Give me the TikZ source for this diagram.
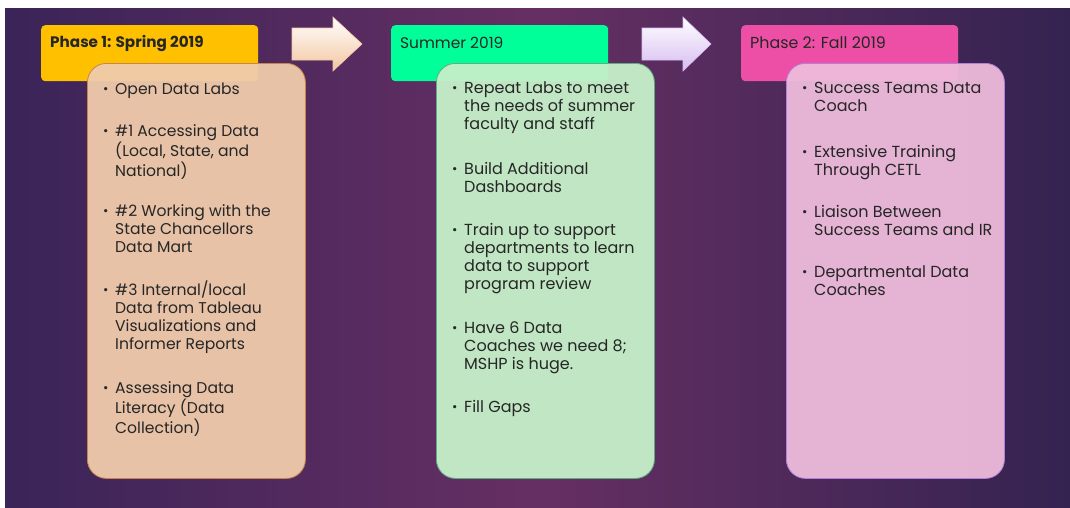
\documentclass[tikz,border=0pt]{standalone}
\usepackage{fontspec}
\setmainfont{Poppins}
\usepackage{array}
\definecolor{bgL}{HTML}{3A2458}
\definecolor{bgM}{HTML}{662F63}
\definecolor{bgR}{HTML}{342350}
\definecolor{txt}{HTML}{262626}
\definecolor{hdrA}{HTML}{FFC000}
\definecolor{hdrB}{HTML}{00FF99}
\definecolor{hdrC}{HTML}{EE4FA6}
\definecolor{boxA}{HTML}{F0CBAB}
\definecolor{boxB}{HTML}{C6F0C9}
\definecolor{boxC}{HTML}{EEBBDB}
\definecolor{lineA}{HTML}{C8844C}
\definecolor{lineB}{HTML}{5FAE82}
\definecolor{lineC}{HTML}{B27FDA}
\definecolor{arrA}{HTML}{F3C6A0}
\definecolor{arrB}{HTML}{D7BDF2}
\newcommand\bul{\makebox[12pt][l]{\fontsize{13}{13}\selectfont\raisebox{0.5pt}{•}}}
\tikzset{
  hdr/.style={rounded corners=4pt, minimum width=217pt, minimum height=56pt, anchor=north west, inner sep=0pt},
  hdrtext/.style={anchor=base west, inner sep=0pt, text=txt, font=\fontsize{15.6}{17}\selectfont},
  panel/.style={rounded corners=19pt, minimum width=218pt, minimum height=415pt, anchor=north west, inner sep=0pt, line width=0.8pt, fill opacity=0.95},
  itm/.style={anchor=base west, inner sep=0pt, text=txt, font=\fontsize{15.6}{18.3}\selectfont},
  itmb/.style={itm, font=\fontsize{16}{18.2}\selectfont},
  arr/.style={line width=0.6pt}
}
\begin{document}
\begin{tikzpicture}[x=1pt,y=-1pt]
\useasboundingbox (0,0) rectangle (1070,507);
\fill[white] (0,0) rectangle (1070,507);
\shade[left color=bgL, right color=bgR, middle color=bgM] (5,8) rectangle (1070,507);

% arrows
\shade[arr, top color=white, bottom color=arrA, draw=arrA]
  (292,28) -- (333,28) -- (333,17) -- (362,44) -- (333,71) -- (333,60) -- (292,60) -- cycle;
\shade[arr, top color=white, bottom color=arrB, draw=arrB]
  (642,28) -- (683,28) -- (683,17) -- (711,44) -- (683,71) -- (683,60) -- (642,60) -- cycle;

% headers
\node[hdr, fill=hdrA] (h1) at (41,25) {};
\node[hdr, fill=hdrB] (h2) at (391,25) {};
\node[hdr, fill=hdrC] (h3) at (741,25) {};
\node[hdrtext, font=\fontsize{15.2}{17}\selectfont\bfseries] (t1) at (50,47) {Phase 1: Spring 2019};
\node[hdrtext, font=\fontsize{15.4}{17}\selectfont] (t2) at (400,48) {Summer 2019};
\node[hdrtext, font=\fontsize{15.9}{17}\selectfont] (t3) at (750,48) {Phase 2: Fall 2019};

% panels
\node[panel, fill=boxA, draw=lineA] (p1) at (87,63) {};
\node[panel, fill=boxB, draw=lineB] (p2) at (436,63) {};
\node[panel, fill=boxC, draw=lineC] (p3) at (786,63) {};

% panel 1 items
\node[itm] (a1) at (103,94) {\begin{tabular}[t]{@{}l@{}l@{}}\bul&Open Data Labs\end{tabular}};
\node[itm] (a2) at (103,136) {\begin{tabular}[t]{@{}l@{}l@{}}\bul&\#1 Accessing Data\\&(Local, State, and\\&National)\end{tabular}};
\node[itm] (a3) at (103,216) {\begin{tabular}[t]{@{}l@{}l@{}}\bul&\#2 Working with the\\&State Chancellors\\&Data Mart\end{tabular}};
\node[itm] (a4) at (103,295) {\begin{tabular}[t]{@{}l@{}l@{}}\bul&\#3 Internal/local\\&Data from Tableau\\&Visualizations and\\&Informer Reports\end{tabular}};
\node[itm] (a5) at (103,393) {\begin{tabular}[t]{@{}l@{}l@{}}\bul&Assessing Data\\&Literacy (Data\\&Collection)\end{tabular}};

% panel 2 items
\node[itmb] (b1) at (452,93) {\begin{tabular}[t]{@{}l@{}l@{}}\bul&Repeat Labs to meet\\&the needs of summer\\&faculty and staff\end{tabular}};
\node[itmb] (b2) at (452,174) {\begin{tabular}[t]{@{}l@{}l@{}}\bul&Build Additional\\&Dashboards\end{tabular}};
\node[itmb] (b3) at (452,235) {\begin{tabular}[t]{@{}l@{}l@{}}\bul&Train up to support\\&departments to learn\\&data to support\\&program review\end{tabular}};
\node[itmb] (b4) at (452,333) {\begin{tabular}[t]{@{}l@{}l@{}}\bul&Have 6 Data\\&Coaches we need 8;\\&MSHP is huge.\end{tabular}};
\node[itmb] (b5) at (452,412) {\begin{tabular}[t]{@{}l@{}l@{}}\bul&Fill Gaps\end{tabular}};

% panel 3 items
\node[itmb] (c1) at (802,93) {\begin{tabular}[t]{@{}l@{}l@{}}\bul&Success Teams Data\\&Coach\end{tabular}};
\node[itmb] (c2) at (802,157) {\begin{tabular}[t]{@{}l@{}l@{}}\bul&Extensive Training\\&Through CETL\end{tabular}};
\node[itmb] (c3) at (802,217) {\begin{tabular}[t]{@{}l@{}l@{}}\bul&Liaison Between\\&Success Teams and IR\end{tabular}};
\node[itmb] (c4) at (802,277) {\begin{tabular}[t]{@{}l@{}l@{}}\bul&Departmental Data\\&Coaches\end{tabular}};
\end{tikzpicture}
\end{document}
